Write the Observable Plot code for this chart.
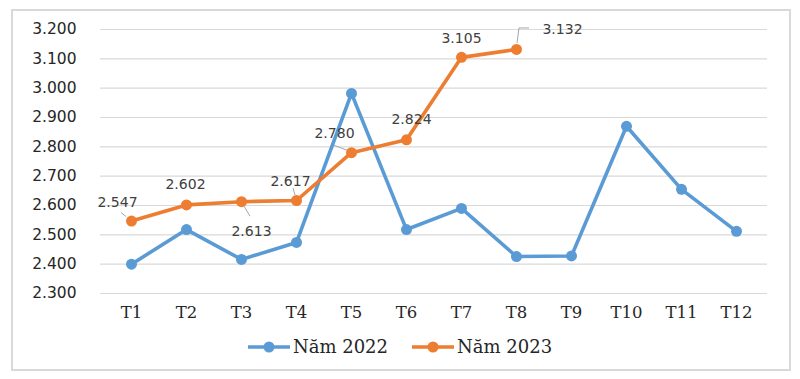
<!DOCTYPE html>
<html>
<head>
<meta charset="utf-8">
<script src="https://cdn.jsdelivr.net/npm/d3@7"></script>
<script src="https://cdn.jsdelivr.net/npm/@observablehq/plot@0.6"></script>
<style>
  html, body { margin: 0; padding: 0; background: #ffffff; }
  body { width: 800px; height: 379px; overflow: hidden; position: relative; font-family: "DejaVu Sans", sans-serif; }
  #frame { position: absolute; left: 11px; top: 9px; width: 776px; height: 358px; border: 2px solid #d9d9d9; pointer-events: none; }
  #chart { position: absolute; left: 0; top: 0; }
  #legend { position: absolute; left: 0; top: 336px; width: 800px; display: flex; justify-content: center; gap: 24px; font-family: "DejaVu Serif", serif; font-size: 18px; color: #262626; }
  #legend .item { display: flex; align-items: center; gap: 3px; }
  #legend svg { display: block; }
</style>
</head>
<body>
<div id="chart"></div>
<div id="legend"></div>
<div id="frame"></div>
<script>
// ---- data ----
const months = ["T1", "T2", "T3", "T4", "T5", "T6", "T7", "T8", "T9", "T10", "T11", "T12"];
const sales2022 = [2400, 2518, 2416, 2474, 2982, 2518, 2590, 2426, 2428, 2870, 2655, 2512];
const sales2023 = [2547, 2602, 2613, 2617, 2780, 2824, 3105, 3132];
const yTicks = [2300, 2400, 2500, 2600, 2700, 2800, 2900, 3000, 3100, 3200];
const seriesNames = ["Năm 2022", "Năm 2023"];
const seriesColors = ["#5B9BD5", "#ED7D31"];

// ---- label layout (pixel offsets from each 2023 point) ----
const labelLayout = [
  { dx: -14, dy: -19, leader: [[-10, -8], [-5, -4]] },
  { dx: -1, dy: -20 },
  { dx: 10, dy: 30, leader: [[3, 5], [9, 15]] },
  { dx: -6, dy: -19, leader: [[-3, -12], [-1, -5]] },
  { dx: -17, dy: -19, leader: [[-17, -7], [-4, -2]] },
  { dx: 5, dy: -20 },
  { dx: 0, dy: -19 },
  { dx: 46, dy: -20, leader: [[1, -6], [3, -21], [13, -21]] }
];

const fmt = v => d3.format(",")(v).replace(/,/g, ".");

const rows = [
  ...months.map((m, i) => ({ month: m, value: sales2022[i], series: seriesNames[0] })),
  ...sales2023.map((v, i) => ({ month: months[i], value: v, series: seriesNames[1] }))
];
const rows2023 = rows.filter(d => d.series === seriesNames[1]);

const labelMarks = rows2023.map((d, i) => Plot.text([d], {
  x: "month", y: "value", text: r => fmt(r.value),
  dx: labelLayout[i].dx, dy: labelLayout[i].dy,
  fill: "#404040", fontSize: 14, fontFamily: "DejaVu Sans"
}));

const chart = Plot.plot({
  width: 800,
  height: 330,
  marginLeft: 100,
  marginRight: 33,
  marginTop: 29,
  marginBottom: 37,
  style: { background: "transparent", fontFamily: "DejaVu Sans", fontSize: "15px", color: "#262626", overflow: "visible" },
  x: { type: "point", domain: months, padding: 0.5, align: 0.5, tickSize: 0, tickPadding: 13, label: null },
  y: { domain: [2300, 3200], ticks: yTicks, tickFormat: fmt, tickSize: 0, tickPadding: 24, label: null },
  color: { domain: seriesNames, range: seriesColors },
  marks: [
    Plot.ruleY(yTicks, { stroke: "#d9d9d9", strokeWidth: 1.2 }),
    Plot.line(rows, { x: "month", y: "value", z: "series", stroke: "series", strokeWidth: 3.6, strokeLinejoin: "round", strokeLinecap: "round" }),
    Plot.dot(rows, { x: "month", y: "value", fill: "series", r: 5.5, stroke: "none" }),
    ...labelMarks
  ]
});

document.getElementById("chart").appendChild(chart);

// style axis text
const svg = d3.select(chart);
svg.selectAll('[aria-label^="y-axis"] text').style("font-family", "DejaVu Sans").style("font-size", "15.5px").attr("fill", "#262626");
svg.selectAll('[aria-label^="x-axis"] text').style("font-family", "DejaVu Serif").style("font-size", "16.5px").attr("fill", "#262626");

// leader lines, positioned through Plot's own scales
const sxDesc = chart.scale("x");
const syDesc = chart.scale("y");
const sx = sxDesc.apply ? (v => sxDesc.apply(v)) : d3.scalePoint().domain(sxDesc.domain).range(sxDesc.range).padding(0.5).align(0.5);
const sy = syDesc.apply ? (v => syDesc.apply(v)) : d3.scaleLinear().domain(syDesc.domain).range(syDesc.range);
const leaderG = svg.append("g").attr("fill", "none").attr("stroke", "#a6a6a6").attr("stroke-width", 1);
rows2023.forEach((d, i) => {
  const L = labelLayout[i].leader;
  if (!L) return;
  const px = sx(d.month), py = sy(d.value);
  leaderG.append("polyline").attr("points", L.map(([a, b]) => `${px + a},${py + b}`).join(" "));
});

// legend
const legend = d3.select("#legend");
seriesNames.forEach((name, i) => {
  const item = legend.append("div").attr("class", "item");
  const s = item.append("svg").attr("width", 42).attr("height", 14);
  s.append("line").attr("x1", 0).attr("x2", 42).attr("y1", 7).attr("y2", 7).attr("stroke", seriesColors[i]).attr("stroke-width", 3.6);
  s.append("circle").attr("cx", 21).attr("cy", 7).attr("r", 5.5).attr("fill", seriesColors[i]);
  item.append("span").text(name);
});
</script>
</body>
</html>
